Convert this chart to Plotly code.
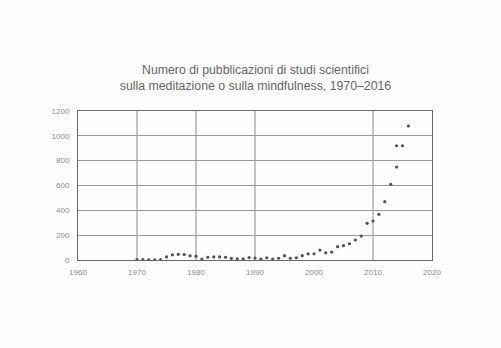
import plotly.graph_objects as go

years = [1970, 1971, 1972, 1973, 1974, 1975, 1976, 1977, 1978, 1979,
         1980, 1981, 1982, 1983, 1984, 1985, 1986, 1987, 1988, 1989,
         1990, 1991, 1992, 1993, 1994, 1995, 1996, 1997, 1998, 1999,
         2000, 2001, 2002, 2003, 2004, 2005, 2006, 2007, 2008, 2009,
         2010, 2011, 2012, 2013, 2014, 2014, 2015, 2016]
pubs = [3, 3, 2, 2, 3, 25, 42, 46, 44, 34,
        31, 8, 22, 25, 25, 22, 13, 9, 9, 20,
        16, 7, 18, 8, 14, 35, 14, 18, 35, 50,
        50, 80, 58, 64, 107, 115, 131, 161, 193, 295,
        314, 368, 470, 610, 749, 920, 920, 1079]

x_ticks = [1960, 1970, 1980, 1990, 2000, 2010, 2020]
y_ticks = [0, 200, 400, 600, 800, 1000, 1200]
v_grid = [1970, 1980, 1990, 2010]

title = ("Numero di pubblicazioni di studi scientifici<br>"
         "sulla meditazione o sulla mindfulness, 1970–2016")

fig = go.Figure()
fig.add_trace(go.Scatter(
    x=years, y=pubs, mode="markers",
    marker=dict(size=3.2, color="#505050"),
    showlegend=False, hoverinfo="x+y",
))

for v in v_grid:
    fig.add_shape(type="line", xref="x", yref="paper", x0=v, x1=v, y0=0, y1=1,
                  line=dict(color="#8a8a8a", width=1), layer="below")

fig.update_layout(
    width=501, height=348,
    margin=dict(l=78, r=69, t=111, b=88),
    paper_bgcolor="#fdfdfd",
    plot_bgcolor="#fdfdfd",
    font=dict(family="Liberation Sans, Arial, sans-serif", color="#8c8c8c", size=8),
    title=dict(text=title, x=0.51, xanchor="center", y=0.788, yanchor="top",
               font=dict(size=12.3, color="#666666")),
    xaxis=dict(range=[1960, 2020], tickvals=x_ticks, showgrid=False,
               showline=True, linecolor="#6a6a6a", linewidth=1, mirror=True,
               zeroline=False, ticks="", ticklen=0, ticklabelstandoff=4),
    yaxis=dict(range=[0, 1200], tickvals=y_ticks, showgrid=True,
               gridcolor="#9a9a9a", gridwidth=1,
               showline=True, linecolor="#6a6a6a", linewidth=1, mirror=True,
               zeroline=False, ticks="", ticklen=0, ticklabelstandoff=6),
)

fig.write_html("out.html")
